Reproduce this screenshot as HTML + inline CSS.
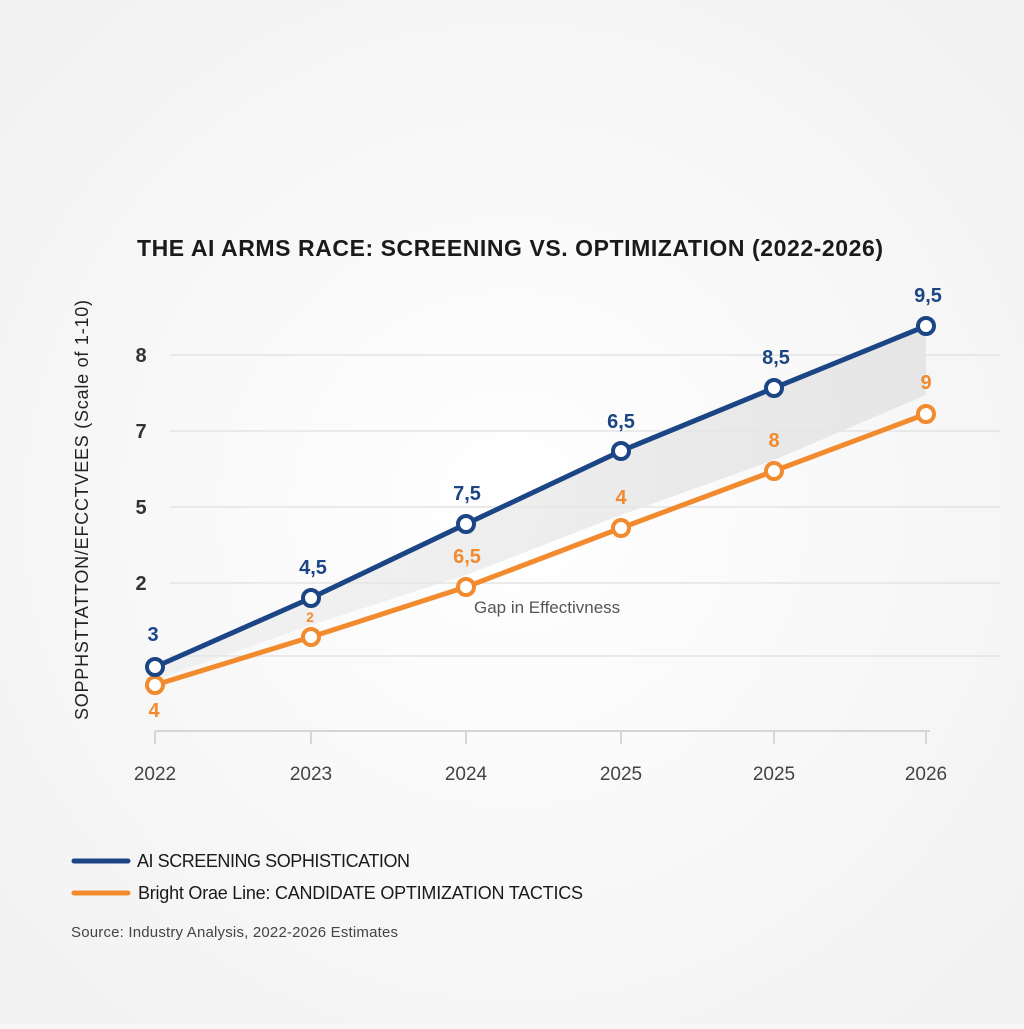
<!DOCTYPE html>
<html><head><style>
body{margin:0;width:1024px;height:1024px;background:#f7f7f7;font-family:"Liberation Sans",sans-serif;overflow:hidden}
</style></head><body>
<svg width="1024" height="1024" xmlns="http://www.w3.org/2000/svg">
<defs>
<radialGradient id="bg" cx="50%" cy="50%" r="70%"><stop offset="0" stop-color="#ffffff"/><stop offset="1" stop-color="#f1f1f1"/></radialGradient>
<linearGradient id="gap" x1="0" x2="1" y1="0" y2="0"><stop offset="0" stop-color="#e6e6e6" stop-opacity="0.4"/><stop offset="1" stop-color="#e6e6e6"/></linearGradient>
</defs>
<rect width="1024" height="1024" fill="url(#bg)"/>
<g stroke="#e4e4e4" stroke-width="1.5">
<line x1="170" y1="355" x2="1000" y2="355"/>
<line x1="170" y1="431" x2="1000" y2="431"/>
<line x1="170" y1="507" x2="1000" y2="507"/>
<line x1="170" y1="583" x2="1000" y2="583"/>
<line x1="170" y1="656" x2="1000" y2="656"/>
</g>
<g stroke="#d6d6d6" stroke-width="2">
<line x1="155" y1="731" x2="930" y2="731"/>
<line x1="155" y1="731" x2="155" y2="744"/><line x1="311" y1="731" x2="311" y2="744"/>
<line x1="466" y1="731" x2="466" y2="744"/><line x1="621" y1="731" x2="621" y2="744"/>
<line x1="774" y1="731" x2="774" y2="744"/><line x1="926" y1="731" x2="926" y2="744"/>
</g>
<text x="510" y="256" text-anchor="middle" font-size="23" font-weight="bold" fill="#1a1a1a" textLength="746">THE AI ARMS RACE: SCREENING VS. OPTIMIZATION (2022-2026)</text>
<text transform="translate(88,510) rotate(-90)" text-anchor="middle" font-size="18" fill="#222" textLength="420">SOPPHSTTATTON/EFCCTVEES  (Scale of 1-10)</text>
<g font-size="20" fill="#333" text-anchor="middle" font-weight="bold">
<text x="141" y="362">8</text><text x="141" y="438">7</text><text x="141" y="514">5</text><text x="141" y="590">2</text>
</g>
<g font-size="19" fill="#444" text-anchor="middle">
<text x="155" y="780">2022</text><text x="311" y="780">2023</text><text x="466" y="780">2024</text><text x="621" y="780">2025</text><text x="774" y="780">2025</text><text x="926" y="780">2026</text>
</g>
<polygon points="155,667 311,598 466,524 621,451 774,388 926,326 926,395 774,460 621,515 466,575 311,625 155,680" fill="url(#gap)"/>
<polyline points="155,685 311,637 466,587 621,528 774,471 926,414" fill="none" stroke="#f28a2e" stroke-width="5" stroke-linejoin="round"/>
<polyline points="155,667 311,598 466,524 621,451 774,388 926,326" fill="none" stroke="#1b4585" stroke-width="5" stroke-linejoin="round"/>
<g fill="#fff" stroke="#f28a2e" stroke-width="4">
<circle cx="155" cy="685" r="8"/><circle cx="311" cy="637" r="8"/><circle cx="466" cy="587" r="8"/><circle cx="621" cy="528" r="8"/><circle cx="774" cy="471" r="8"/><circle cx="926" cy="414" r="8"/>
</g>
<g fill="#fff" stroke="#1b4585" stroke-width="4">
<circle cx="155" cy="667" r="8"/><circle cx="311" cy="598" r="8"/><circle cx="466" cy="524" r="8"/><circle cx="621" cy="451" r="8"/><circle cx="774" cy="388" r="8"/><circle cx="926" cy="326" r="8"/>
</g>
<g font-size="20" font-weight="bold" fill="#1b4585" text-anchor="middle">
<text x="153" y="641">3</text><text x="313" y="574">4,5</text><text x="467" y="500">7,5</text><text x="621" y="428">6,5</text><text x="776" y="364">8,5</text><text x="928" y="302">9,5</text>
</g>
<g font-size="20" font-weight="bold" fill="#f28a2e" text-anchor="middle">
<text x="154" y="717">4</text><text x="310" y="622" font-size="14">2</text><text x="467" y="563">6,5</text><text x="621" y="504">4</text><text x="774" y="447">8</text><text x="926" y="389">9</text>
</g>
<text x="474" y="613" font-size="17" fill="#555">Gap in Effectivness</text>
<line x1="74" y1="861" x2="128" y2="861" stroke="#1b4585" stroke-width="5" stroke-linecap="round"/>
<text x="137" y="867" font-size="18" fill="#1a1a1a" textLength="273">AI SCREENING SOPHISTICATION</text>
<line x1="74" y1="893" x2="128" y2="893" stroke="#f28a2e" stroke-width="5" stroke-linecap="round"/>
<text x="138" y="899" font-size="18" fill="#1a1a1a" textLength="445">Bright Orae Line: CANDIDATE OPTIMIZATION TACTICS</text>
<text x="71" y="937" font-size="15" fill="#444" textLength="327">Source: Industry Analysis, 2022-2026 Estimates</text>
</svg>
</body></html>
